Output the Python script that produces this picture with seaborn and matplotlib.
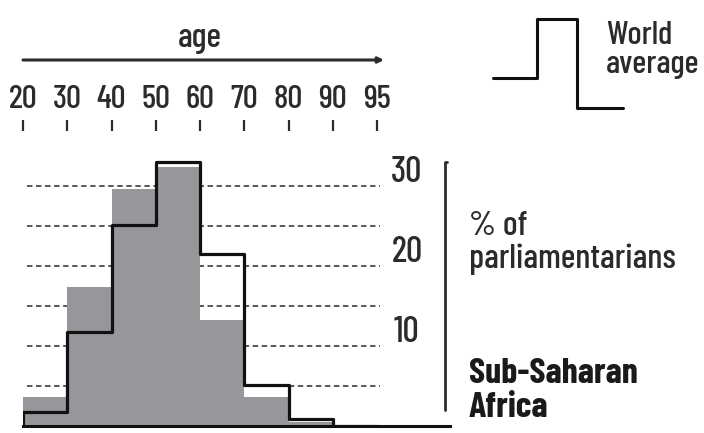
import numpy as np
import pandas as pd
import matplotlib
matplotlib.use("Agg")
import matplotlib.pyplot as plt
import seaborn as sns
from matplotlib.lines import Line2D

# age band edges shown on top axis, one bar per band
age_ticks = ["20", "30", "40", "50", "60", "70", "80", "90", "95"]
age_groups = ["20-29", "30-39", "40-49", "50-59", "60-69", "70-79", "80-89", "90-95"]
# % of parliamentarians per age band
sub_saharan = [3.6, 17.4, 29.6, 32.4, 13.2, 3.6, 0.5, 0.0]
world_avg = [1.8, 11.8, 25.1, 33.0, 21.5, 5.1, 0.9, 0.0]
grid_levels = [5, 10, 15, 20, 25, 30]
y_labels = [10, 20, 30]

W, H = 704, 433
BAR_PX = 44.25   # pixels per age band
UNIT_PX = 8.0    # pixels per percentage point
GRAY = "#96969b"
INK = "#2b2b2b"

sns.set_style("white")
plt.rcParams["font.family"] = ["Barlow Condensed", "DejaVu Sans"]
plt.rcParams["font.weight"] = "medium"

df = pd.DataFrame({
    "group": age_groups,
    "pos": np.arange(len(age_groups)) + 0.5,
    "ssa": sub_saharan,
    "world": world_avg,
})
# list, not array: seaborn compares bins against "auto"
bins = list(range(len(age_groups) + 1))

fig = plt.figure(figsize=(W / 100, H / 100), dpi=100)
ax = fig.add_axes([23 / W, 7 / H, 427 / W, 295 / H])


def px(x, y):
    # figure fraction from pixel position (origin top-left)
    return x / W, 1 - y / H


# dashed guide lines behind the bars
ax.hlines(grid_levels, 0.1, (380 - 23) / BAR_PX, colors="#4a4a4a",
          linestyles=(0, (3, 2)), linewidth=1.3, zorder=1)

sns.histplot(data=df, x="pos", weights="ssa", bins=bins, element="bars",
             color=GRAY, alpha=1, edgecolor="none", linewidth=0, ax=ax, zorder=2)
sns.histplot(data=df, x="pos", weights="world", bins=bins, element="step",
             fill=False, color="#111111", linewidth=2.3, ax=ax, zorder=3)
ax.vlines(0, 0, df["world"].iloc[0], colors="#111111", linewidth=2.3, zorder=3)

ax.set_xlim(0, 427 / BAR_PX)
ax.set_ylim(0, 295 / UNIT_PX)

for v in y_labels:
    ax.text((407 - 23) / BAR_PX, v + 1.7, str(v), ha="center", va="center",
            fontsize=26, color=INK)

# top age axis
ax.set_xticks(bins, age_ticks)
ax.xaxis.tick_top()
ax.tick_params(axis="x", length=8, width=1.6, color=INK, pad=4,
               labelsize=24, labelcolor=INK)
ax.set_yticks([])
ax.set_xlabel("")
ax.set_ylabel("")
for s in ["left", "top", "right"]:
    ax.spines[s].set_visible(False)
ax.spines["bottom"].set_color("#111111")
ax.spines["bottom"].set_linewidth(2.2)

fig.text(*px(200, 38), "age", ha="center", va="center", fontsize=25, color=INK)
ax.annotate("", xy=(384, H - 60), xytext=(23, H - 60), xycoords="figure pixels",
            textcoords="figure pixels",
            arrowprops=dict(arrowstyle="-|>", lw=2.2, color=INK, mutation_scale=8,
                            shrinkA=0, shrinkB=0))

# legend glyph for the world average step line
lx = [493, 537, 537, 577, 577, 623]
ly = [78, 78, 19, 19, 108, 108]
fig.add_artist(Line2D([x / W for x in lx], [1 - y / H for y in ly],
                      transform=fig.transFigure, color="#111111", lw=2.2))
fig.text(*px(606, 50), "World\naverage", ha="left", va="center", fontsize=24,
         color=INK, linespacing=1.0)

# bracket for the percentage scale
fig.add_artist(Line2D([447 / W, 445 / W, 445 / W], [1 - 162 / H, 1 - 162 / H, 1 - 410 / H],
                      transform=fig.transFigure, color=INK, lw=2.0))
fig.text(*px(469, 243), "% of\nparliamentarians", ha="left", va="center",
         fontsize=25, color=INK, linespacing=1.05)
fig.text(*px(469, 391), "Sub-Saharan\nAfrica", ha="left", va="center",
         fontsize=26, fontweight="bold", color="#1a1a1a", linespacing=1.05)

fig.savefig("out.png", dpi=100)
